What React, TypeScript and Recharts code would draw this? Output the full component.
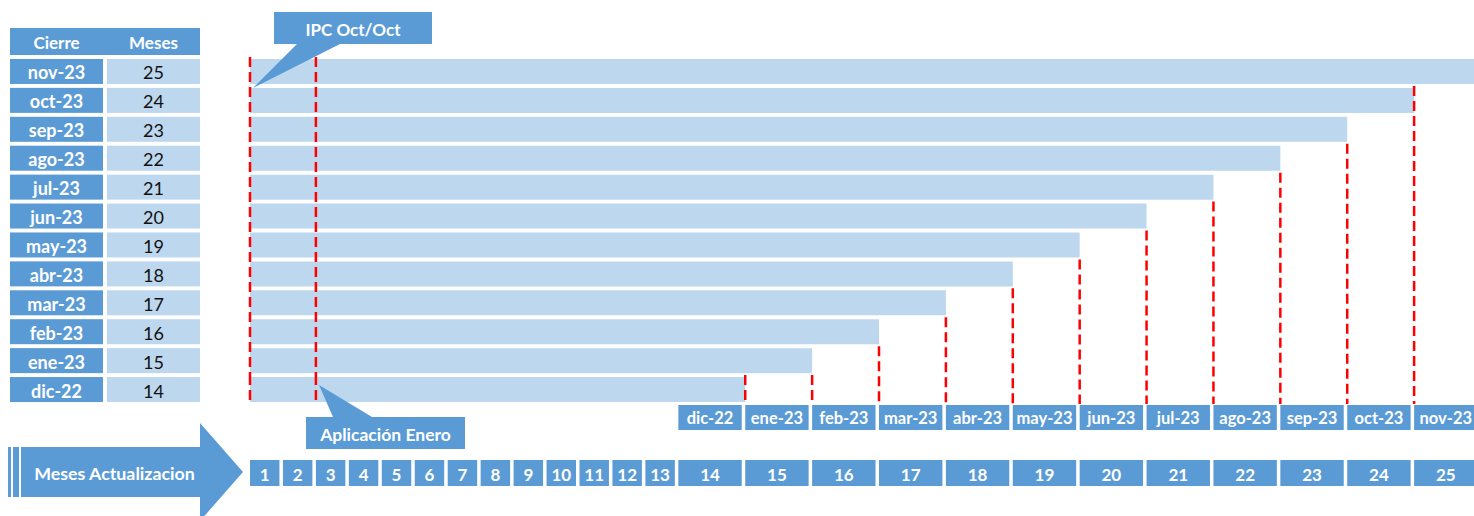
import React from "react";
import { Bar, BarChart, ReferenceLine, XAxis, YAxis } from "recharts";

// Cierres (filas, de arriba hacia abajo) y meses de actualización de cada uno
const CIERRES = [
  "nov-23", "oct-23", "sep-23", "ago-23", "jul-23", "jun-23",
  "may-23", "abr-23", "mar-23", "feb-23", "ene-23", "dic-22",
];
const MESES = [25, 24, 23, 22, 21, 20, 19, 18, 17, 16, 15, 14];

// Eje inferior: número de mes y, desde el mes 14, el mes calendario
const MESES_EJE = [
  1, 2, 3, 4, 5, 6, 7, 8, 9, 10, 11, 12, 13,
  14, 15, 16, 17, 18, 19, 20, 21, 22, 23, 24, 25,
];
const NOMBRES_EJE = [
  "dic-22", "ene-23", "feb-23", "mar-23", "abr-23", "may-23",
  "jun-23", "jul-23", "ago-23", "sep-23", "oct-23", "nov-23",
];
const PRIMER_MES_CON_NOMBRE = 14;

// Líneas rojas fijas: inicio y fin del mes 2 ("Aplicación Enero")
const MARCAS_FIJAS = [0, 2];

const DARK = "#5B9BD5";
const LIGHT = "#BDD7EE";
const RED = "#FF0000";
const FONT = "Lato, 'Open Sans', sans-serif";

// Los meses 1..13 se dibujan angostos, del 14 en adelante ocupan ~2 unidades
const ULTIMO_ANGOSTO = 13;
const ANCHO_LARGO = 2.03;
function unidades(mes: number): number {
  return mes <= ULTIMO_ANGOSTO
    ? mes
    : ULTIMO_ANGOSTO + (mes - ULTIMO_ANGOSTO) * ANCHO_LARGO;
}

const TOTAL = unidades(MESES_EJE[MESES_EJE.length - 1]);
const PX = 32.95; // px por unidad
const LEFT = 250;
const CHART_W = Math.round(LEFT + TOTAL * PX);
const CHART_H = 516;

const rows = CIERRES.map((cierre, i) => ({
  cierre,
  meses: MESES[i],
  fin: unidades(MESES[i]),
}));

const TICKS = MESES_EJE.map((m) => (unidades(m - 1) + unidades(m)) / 2);

const LAST = CIERRES.length - 1;

function MesTick(props: any) {
  const { x, y, payload } = props;
  let i = TICKS.indexOf(payload.value);
  if (i < 0) i = props.index ?? 0;
  const mes = MESES_EJE[i];
  const span = (unidades(mes) - unidades(mes - 1)) * PX;
  const left = x - span / 2;
  const w = span - 3.5;
  const nombre =
    mes >= PRIMER_MES_CON_NOMBRE ? NOMBRES_EJE[mes - PRIMER_MES_CON_NOMBRE] : null;
  return (
    <g>
      {nombre && (
        <g>
          <rect x={left} y={y + 1} width={w} height={25} fill={DARK} />
          <text
            x={left + w / 2}
            y={y + 14}
            textAnchor="middle"
            dominantBaseline="central"
            fill="#fff"
            fontFamily={FONT}
            fontWeight={700}
            fontSize={16.5}
          >
            {nombre}
          </text>
        </g>
      )}
      <rect x={left} y={y + 56} width={w} height={26} fill={DARK} />
      <text
        x={left + w / 2}
        y={y + 70}
        textAnchor="middle"
        dominantBaseline="central"
        fill="#fff"
        fontFamily={FONT}
        fontWeight={700}
        fontSize={17}
      >
        {mes}
      </text>
    </g>
  );
}

function CierreTick(props: any) {
  const { y, payload } = props;
  const i = CIERRES.indexOf(payload.value);
  return (
    <g>
      <rect x={10} y={y - 12.5} width={93} height={25} fill={DARK} />
      <text
        x={56.5}
        y={y + 1}
        textAnchor="middle"
        dominantBaseline="central"
        fill="#fff"
        fontFamily={FONT}
        fontWeight={700}
        fontSize={18}
      >
        {payload.value}
      </text>
      <rect x={107} y={y - 12.5} width={93} height={25} fill={LIGHT} />
      <text
        x={153.5}
        y={y + 1}
        textAnchor="middle"
        dominantBaseline="central"
        fill="#111"
        fontFamily={FONT}
        fontSize={18}
      >
        {MESES[i]}
      </text>
    </g>
  );
}

const lineProps = {
  xAxisId: "x",
  yAxisId: "rows",
  stroke: RED,
  strokeWidth: 2.5,
  strokeDasharray: "10 5",
  ifOverflow: "visible" as const,
};

// línea vertical en x desde el borde superior de la fila k hasta el final
function lineaDesde(x: number, k: number, key: string) {
  if (k > 0) {
    return [
      <ReferenceLine
        key={key}
        {...lineProps}
        position="end"
        segment={[
          { x, y: CIERRES[k - 1] },
          { x, y: CIERRES[LAST] },
        ]}
      />,
    ];
  }
  return [
    <ReferenceLine
      key={`${key}-a`}
      {...lineProps}
      position="start"
      segment={[
        { x, y: CIERRES[0] },
        { x, y: CIERRES[LAST] },
      ]}
    />,
    <ReferenceLine
      key={`${key}-b`}
      {...lineProps}
      position="end"
      segment={[
        { x, y: CIERRES[LAST - 1] },
        { x, y: CIERRES[LAST] },
      ]}
    />,
  ];
}

export default function App() {
  const maxMeses = Math.max(...MESES);
  const lineas = [
    ...MARCAS_FIJAS.flatMap((m) => lineaDesde(unidades(m), 0, `fija-${m}`)),
    ...rows.flatMap((r, i) =>
      r.meses >= maxMeses
        ? []
        : lineaDesde(r.fin, i === 1 || i === LAST ? i : i + 1, `fin-${r.cierre}`)
    ),
  ];
  return (
    <div
      style={{
        position: "absolute",
        left: 0,
        top: 0,
        width: 1474,
        height: CHART_H,
        overflow: "hidden",
        background: "#fff",
      }}
    >
      <div style={{ position: "absolute", left: 0, top: 0 }}>
        <BarChart
          width={CHART_W}
          height={CHART_H}
          data={rows}
          layout="vertical"
          margin={{ top: 57, right: 0, bottom: 0, left: 0 }}
        >
          <XAxis
            xAxisId="x"
            type="number"
            domain={[0, TOTAL]}
            ticks={TICKS}
            interval={0}
            height={112}
            tickSize={0}
            tickMargin={0}
            tickLine={false}
            axisLine={false}
            allowDataOverflow
            tick={MesTick}
          />
          <YAxis
            yAxisId="rows"
            type="category"
            dataKey="cierre"
            width={LEFT}
            interval={0}
            tickLine={false}
            axisLine={false}
            tick={CierreTick}
          />
          <Bar
            xAxisId="x"
            yAxisId="rows"
            dataKey="fin"
            fill={LIGHT}
            barSize={25}
            isAnimationActive={false}
          />
          {lineas}
        </BarChart>
      </div>
      <svg
        width={1474}
        height={CHART_H}
        style={{ position: "absolute", left: 0, top: 0, pointerEvents: "none" }}
        fontFamily={FONT}
        fontWeight={700}
      >
        {/* encabezado de la tabla */}
        <rect x={10} y={28} width={190} height={27} fill={DARK} />
        <text x={56.5} y={42} textAnchor="middle" dominantBaseline="central" fill="#fff" fontSize={17}>
          Cierre
        </text>
        <text x={153.5} y={42} textAnchor="middle" dominantBaseline="central" fill="#fff" fontSize={17}>
          Meses
        </text>

        {/* llamadas */}
        <path d="M274 12 H432 V44 H340 L253 88 L297 44 H274 Z" fill={DARK} />
        <text x={353} y={29} textAnchor="middle" dominantBaseline="central" fill="#fff" fontSize={17}>
          IPC Oct/Oct
        </text>
        <path d="M306 417 H333 L319 385 L372 417 H465 V449 H306 Z" fill={DARK} />
        <text x={385.5} y={434} textAnchor="middle" dominantBaseline="central" fill="#fff" fontSize={17.5}>
          Aplicación Enero
        </text>

        {/* flecha */}
        <rect x={8} y={447} width={3} height={50} fill={DARK} />
        <rect x={13} y={447} width={6} height={50} fill={DARK} />
        <path d="M21 447 H200 V423 L243 472 L200 521 V497 H21 Z" fill={DARK} />
        <text x={114.5} y={473} textAnchor="middle" dominantBaseline="central" fill="#fff" fontSize={17.8}>
          Meses Actualizacion
        </text>
      </svg>
    </div>
  );
}
